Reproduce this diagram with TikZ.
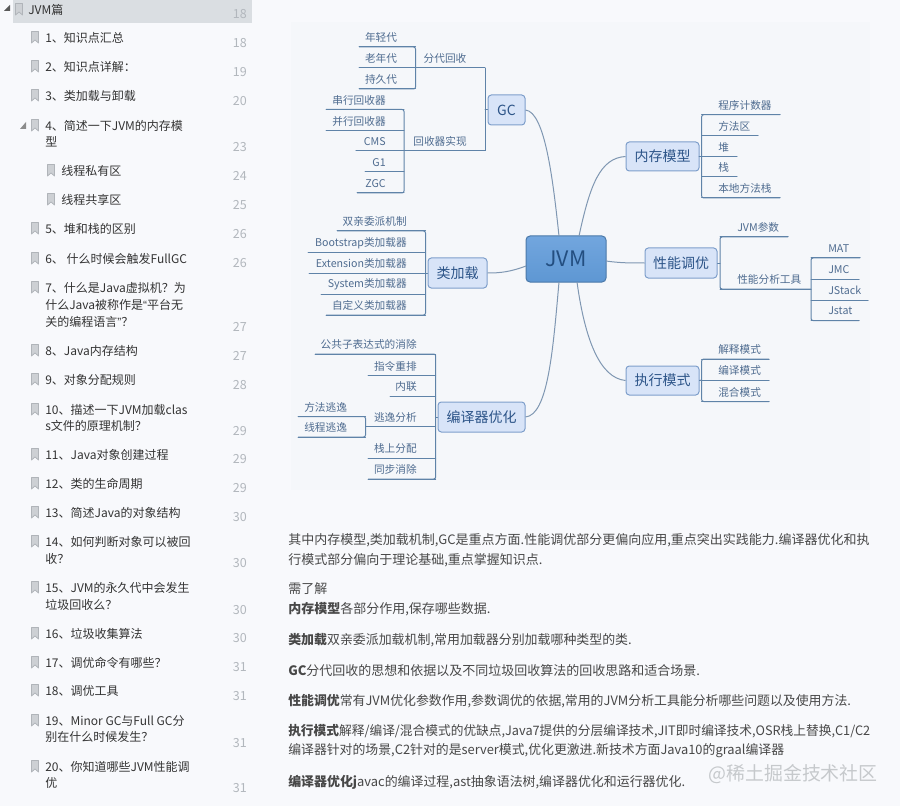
\documentclass[tikz,border=0pt]{standalone}
\usepackage{fontspec}
\usepackage{graphicx}
\setmainfont{Noto Sans CJK SC}
\newfontfamily\quotefont{Liberation Sans}
\definecolor{pagebg}{HTML}{F8F9FC}
\definecolor{mapbg}{HTML}{F5F7FA}
\definecolor{selband}{HTML}{DADEE2}
\definecolor{linec}{HTML}{5F83A8}
\definecolor{leafc}{HTML}{4F6C90}
\definecolor{topicc}{HTML}{2C5488}
\definecolor{topicfill}{HTML}{D8E4F8}
\definecolor{topicdraw}{HTML}{7E9FCB}
\definecolor{curvec}{HTML}{7F97B2}
\definecolor{tocc}{HTML}{333333}
\definecolor{pagec}{HTML}{B2B7BD}
\definecolor{iconc}{HTML}{B0B4B9}
\definecolor{iconf}{HTML}{CDD0D4}
\definecolor{bodyc}{HTML}{484848}
\definecolor{markc}{HTML}{C6C9CC}
\definecolor{HeadT}{HTML}{72A6DE}
\definecolor{HeadB}{HTML}{5E97D3}
\definecolor{HeadC}{HTML}{234E80}
\tikzset{
  x=0.75pt,y=-0.75pt,
  branch/.style={draw=linec,line width=0.75pt,line cap=round},
  trunk/.style={draw=linec,line width=0.75pt,rounded corners=1.5pt},
  curvelink/.style={draw=curvec,line width=0.75pt},
  leaftext/.style={inner sep=0pt,text=leafc,font=\fontsize{8}{10}\selectfont},
  topic/.style={draw=topicdraw,fill=topicfill,rounded corners=2.5pt,inner sep=0pt,line width=0.75pt,text=topicc,font=\fontsize{10.5}{12}\selectfont},
  rootbox/.style={draw=HeadB!80!black,top color=HeadT,bottom color=HeadB,rounded corners=3pt,inner sep=0pt,line width=0.75pt,text=HeadC,font=\fontsize{16}{20}\selectfont},
  toctext/.style={anchor=west,inner sep=0pt,text=tocc,font=\fontsize{9}{11}\selectfont},
  pagenum/.style={anchor=east,inner sep=0pt,text=pagec,font=\fontsize{9.4}{11}\selectfont},
  bodytext/.style={anchor=west,inner sep=0pt,text=bodyc,font=\fontsize{9.75}{12}\selectfont},
  marktext/.style={anchor=east,inner sep=0pt,text=markc,font=\fontsize{14.2}{16}\selectfont},
}
% name, xa, xb, line y, text anchor, text x, text
\newcommand\leaf[7]{%
  \node[leaftext,anchor=#5] (#1) at ({#6},{#4-9.5}) {#7};
  \coordinate (#1-a) at ({#2},{#4});
  \coordinate (#1-b) at ({#3},{#4});
  \draw[branch] (#1-a) -- (#1-b);}
\newcommand\topicbox[6]{%
  \node[topic,minimum width={(#4-#2)*0.75pt},minimum height={(#5-#3)*0.75pt}] (#1) at ({(#2+#4)/2},{(#3+#5)/2}) {#6};}
\newcommand\bmark[2]{%
  \filldraw[draw=iconc,fill=iconf,line width=0.6pt,line join=round] ({#1+0.5},{#2-5.5}) -- ({#1+7.5},{#2-5.5}) -- ({#1+7.5},{#2+6}) -- ({#1+4},{#2+3}) -- ({#1+0.5},{#2+6}) -- cycle;}
\newcommand\tocitem[6]{%
  \bmark{#2}{#3}
  \node[toctext] (#1) at ({#4},{#3+0.8}) {#5};}
\newcommand\tocline[4]{\node[toctext] (#1) at ({#2},{#3+0.8}) {#4};}
\newcommand\pg[3]{\node[pagenum] (#1) at (247,{#2}) {#3};}
\newcommand\body[3]{\node[bodytext] (#1) at (288,{#2}) {#3};}
\newcommand\squeeze[2]{\scalebox{#1}[1]{#2}}
\newcommand\openq{{\quotefont “}}
\newcommand\closeq{{\quotefont ”}}
\begin{document}
\begin{tikzpicture}
\useasboundingbox (0,0) rectangle (900,806);
\fill[pagebg] (0,0) rectangle (900,806);
\fill[mapbg] (291,22) rectangle (870,490);
\fill[selband] (13,0) rectangle (252,23);

% ---------- table of contents ----------
\fill[black!65] (10,5) -- (10,11) -- (4,11) -- cycle;
\fill[black!45] (26,122) -- (26,129) -- (20,129) -- cycle;
\tocitem{t0}{15}{9}{28}{JVM篇}{}\pg{p0}{14}{18}
\tocitem{t1}{31}{37}{45}{1、知识点汇总}{}\pg{p1}{43}{18}
\tocitem{t2}{31}{66}{45}{2、知识点详解：}{}\pg{p2}{72}{19}
\tocitem{t3}{31}{95}{45}{3、类加载与卸载}{}\pg{p3}{101}{20}
\tocitem{t4}{31}{125}{45}{4、简述一下JVM的内存模}{}\tocline{t4b}{45}{141}{型}\pg{p4}{147}{23}
\tocitem{t4x}{47}{170}{61}{线程私有区}{}\pg{p4x}{176}{24}
\tocitem{t4y}{47}{199}{61}{线程共享区}{}\pg{p4y}{205}{25}
\tocitem{t5}{31}{228}{45}{5、堆和栈的区别}{}\pg{p5}{234}{26}
\tocitem{t6}{31}{258}{45}{6、 什么时候会触发FullGC}{}\pg{p6}{263}{26}
\tocitem{t7}{31}{287}{45}{7、什么是Java虚拟机？为}{}\tocline{t7b}{45}{304}{什么Java被称作是\openq 平台无}\tocline{t7c}{45}{321}{关的编程语言\closeq ？}\pg{p7}{327}{27}
\tocitem{t8}{31}{350}{45}{8、Java内存结构}{}\pg{p8}{356}{27}
\tocitem{t9}{31}{379}{45}{9、对象分配规则}{}\pg{p9}{385}{28}
\tocitem{t10}{31}{409}{45}{10、描述一下JVM加载clas}{}\tocline{t10b}{45}{425}{s文件的原理机制？}\pg{p10}{431}{29}
\tocitem{t11}{31}{454}{45}{11、Java对象创建过程}{}\pg{p11}{459}{29}
\tocitem{t12}{31}{483}{45}{12、类的生命周期}{}\pg{p12}{488}{29}
\tocitem{t13}{31}{512}{45}{13、简述Java的对象结构}{}\pg{p13}{517}{30}
\tocitem{t14}{31}{541}{45}{14、如何判断对象可以被回}{}\tocline{t14b}{45}{558}{收？}\pg{p14}{563}{30}
\tocitem{t15}{31}{587}{45}{15、JVM的永久代中会发生}{}\tocline{t15b}{45}{604}{垃圾回收么？}\pg{p15}{610}{30}
\tocitem{t16}{31}{633}{45}{16、垃圾收集算法}{}\pg{p16}{638}{30}
\tocitem{t17}{31}{662}{45}{17、调优命令有哪些？}{}\pg{p17}{667}{31}
\tocitem{t18}{31}{690}{45}{18、调优工具}{}\pg{p18}{696}{31}
\tocitem{t19}{31}{720}{45}{19、Minor GC与Full GC分}{}\tocline{t19b}{45}{736}{别在什么时候发生？}\pg{p19}{743}{31}
\tocitem{t20}{31}{766}{45}{20、你知道哪些JVM性能调}{}\tocline{t20b}{45}{782}{优}\pg{p20}{788}{31}

% ---------- mind map ----------
\node[rootbox,minimum width={80*0.75pt},minimum height={46*0.75pt}] (jvm) at (566,259) {JVM};
\topicbox{gc}{488}{95}{525}{125}{GC}
\topicbox{cl}{428}{258}{487}{288}{类加载}
\topicbox{co}{438}{402}{525}{432}{编译器优化}
\topicbox{mm}{626}{142}{699}{171}{内存模型}
\topicbox{pf}{645}{248}{717}{278}{性能调优}
\topicbox{ex}{626}{366}{699}{395}{执行模式}

% root links
\coordinate (jA) at (559,236);
\coordinate (jB) at (579,236);
\coordinate (jC) at (559,282);
\coordinate (jD) at (577,282);
\coordinate (jE) at (526,266);
\coordinate (jF) at (606,261);
\draw[curvelink] (gc.east) .. controls (545,112) and (553,180) .. (jA);
\draw[curvelink] (mm.west) .. controls (600,158) and (590,185) .. (jB);
\draw[curvelink] (co.east) .. controls (548,415) and (553,350) .. (jC);
\draw[curvelink] (ex.west) .. controls (600,378) and (585,340) .. (jD);
\draw[curvelink] (cl.east) .. controls (500,273) and (510,272) .. (jE);
\draw[curvelink] (jF) .. controls (620,263) and (630,263) .. (pf.west);

% GC
\coordinate (gcT) at (485,110);
\draw[branch] (gc.west) -- (gcT);
\leaf{gA}{415.5}{485}{68}{center}{445}{分代回收}
\leaf{gB}{356}{485}{151}{center}{440}{回收器实现}
\draw[trunk] (gA-b) -- (gB-b);
\leaf{g1}{359}{415.5}{47}{center}{381}{年轻代}
\leaf{g2}{359}{415.5}{68}{center}{381}{老年代}
\leaf{g3}{359}{415.5}{89}{center}{381}{持久代}
\draw[trunk] (g1-a) -- (g1-b) -- (g3-b) -- (g3-a);
\leaf{g4}{326}{404}{109.5}{east}{386}{串行回收器}
\leaf{g5}{326}{404}{131}{east}{386}{并行回收器}
\leaf{g6}{356}{404}{151}{east}{386}{CMS}
\leaf{g7}{365}{404}{172}{east}{386}{G1}
\leaf{g8}{357}{404}{193}{east}{386}{ZGC}
\draw[trunk] (g4-a) -- (g4-b) -- (g8-b) -- (g8-a);

% class loading
\coordinate (clT) at (425.5,273);
\draw[branch] (cl.west) -- (clT);
\leaf{c1}{337}{425.5}{231}{east}{407}{双亲委派机制}
\leaf{c2}{308}{425.5}{252.5}{east}{407}{Bootstrap类加载器}
\leaf{c3}{309}{425.5}{273}{east}{407}{Extension类加载器}
\leaf{c4}{321}{425.5}{294}{east}{407}{System类加载器}
\leaf{c5}{326}{425.5}{315}{east}{407}{自定义类加载器}
\draw[trunk] (c1-a) -- (c1-b) -- (c5-b) -- (c5-a);

% compiler
\coordinate (coT) at (435.7,417);
\draw[branch] (co.west) -- (coT);
\leaf{o1}{315}{435.7}{354}{east}{417}{公共子表达式的消除}
\leaf{o2}{368}{435.7}{375.5}{east}{417}{指令重排}
\leaf{o3}{390}{435.7}{396}{east}{417}{内联}
\leaf{o4}{365.5}{435.7}{426.5}{east}{417}{逃逸分析}
\leaf{o5}{368}{435.7}{458}{east}{417}{栈上分配}
\leaf{o6}{368}{435.7}{479}{east}{417}{同步消除}
\draw[trunk] (o1-a) -- (o1-b) -- (o6-b) -- (o6-a);
\leaf{o7}{298}{365.5}{416.5}{west}{304}{方法逃逸}
\leaf{o8}{298}{365.5}{437}{west}{304}{线程逃逸}
\draw[trunk] (o7-a) -- (o7-b) -- (o8-b) -- (o8-a);

% memory model
\leaf{m1}{701.7}{780}{114.7}{west}{718}{程序计数器}
\leaf{m2}{701.7}{758}{135.5}{west}{718}{方法区}
\leaf{m3}{699}{737}{156.5}{west}{718}{堆}
\leaf{m4}{701.7}{737}{177}{west}{718}{栈}
\leaf{m5}{701.7}{780}{198}{west}{718}{本地方法栈}
\draw[trunk] (m1-b) -- (m1-a) -- (m5-a) -- (m5-b);

% performance
\coordinate (pfT) at (720,263);
\draw[branch] (pf.east) -- (pfT);
\leaf{f1}{720}{788}{237}{west}{737}{JVM参数}
\leaf{f2}{720}{811}{289}{west}{737}{性能分析工具}
\draw[trunk] (f1-b) -- (f1-a) -- (f2-a) -- (f2-b);
\leaf{f3}{811}{860}{258}{west}{828}{MAT}
\leaf{f4}{811}{859}{279}{west}{828}{JMC}
\leaf{f5}{811}{868}{300}{west}{828}{JStack}
\leaf{f6}{811}{859}{320.5}{west}{828}{Jstat}
\draw[trunk] (f3-b) -- (f3-a) -- (f6-a) -- (f6-b);

% execution
\coordinate (exT) at (701.7,380);
\draw[branch] (ex.east) -- (exT);
\leaf{e1}{701.7}{769}{359}{west}{718}{解释模式}
\leaf{e2}{701.7}{769}{380}{west}{718}{编译模式}
\leaf{e3}{701.7}{769}{401.5}{west}{718}{混合模式}
\draw[trunk] (e1-b) -- (e1-a) -- (e3-a) -- (e3-b);

% ---------- body text ----------
\body{b1}{540}{其中内存模型,类加载机制,GC是重点方面.性能调优部分更偏向应用,重点突出实践能力.编译器优化和执}
\body{b2}{560}{行模式部分偏向于理论基础,重点掌握知识点.}
\body{b3}{589}{需了解}
\body{b4}{609}{{\bfseries 内存模型}各部分作用,保存哪些数据.}
\body{b5}{640}{\squeeze{0.995}{{\bfseries 类加载}双亲委派加载机制,常用加载器分别加载哪种类型的类.}}
\body{b6}{671}{{\bfseries GC}分代回收的思想和依据以及不同垃圾回收算法的回收思路和适合场景.}
\body{b7}{701}{\squeeze{0.991}{{\bfseries 性能调优}常有JVM优化参数作用,参数调优的依据,常用的JVM分析工具能分析哪些问题以及使用方法.}}
\body{b8}{731}{\squeeze{0.978}{{\bfseries 执行模式}解释/编译/混合模式的优缺点,Java7提供的分层编译技术,JIT即时编译技术,OSR栈上替换,C1/C2}}
\body{b9}{751}{\squeeze{0.99}{编译器针对的场景,C2针对的是server模式,优化更激进.新技术方面Java10的graal编译器}}
\body{b10}{782}{\squeeze{0.995}{{\bfseries 编译器优化j}avac的编译过程,ast抽象语法树,编译器优化和运行器优化.}}
\node[marktext] (wm) at (878,774) {@稀土掘金技术社区};
\end{tikzpicture}
\end{document}
